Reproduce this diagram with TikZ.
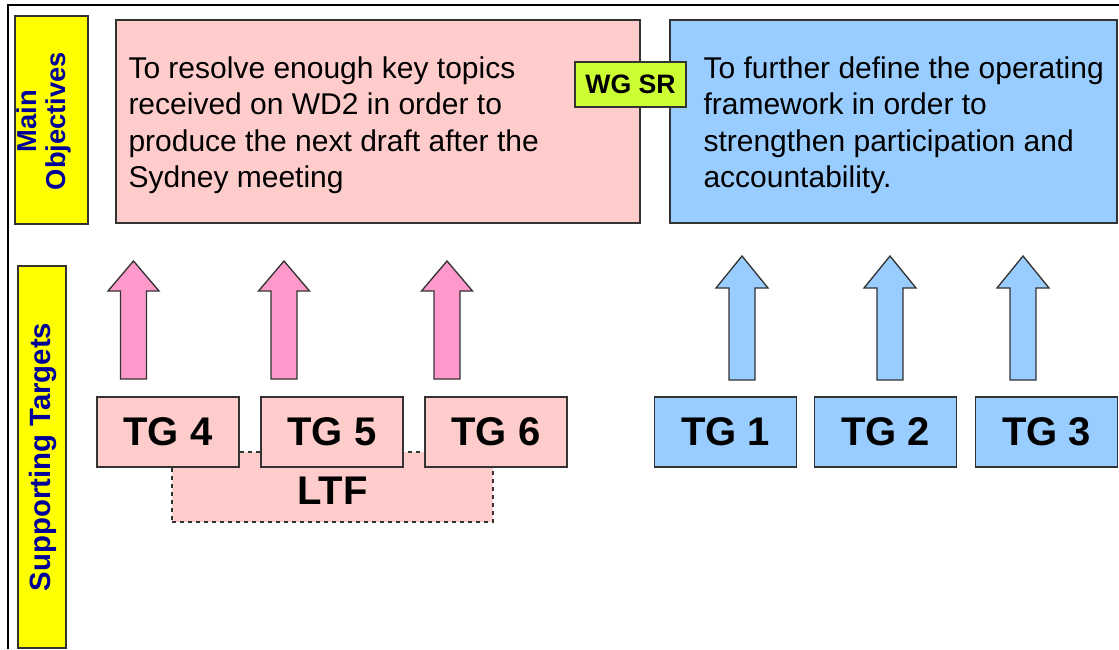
\documentclass[tikz,border=0pt]{standalone}
\usepackage{fontspec}
\setmainfont{Liberation Sans}

\definecolor{pinkfill}{HTML}{FFCCCC}
\definecolor{bluefill}{HTML}{99CCFF}
\definecolor{arrowpink}{HTML}{FF99CC}
\definecolor{yellowbar}{HTML}{FFFF00}
\definecolor{wgfill}{HTML}{CCFF33}
\definecolor{navytext}{HTML}{000099}
\definecolor{edgegray}{HTML}{333333}

\tikzset{every picture/.style={line width=0.75pt}}
\tikzset{
  box/.style={draw=edgegray, line width=1.1pt, rectangle, inner sep=0pt},
  sidebar/.style={box, fill=yellowbar, minimum width=#1},
  goalbox/.style={box, minimum height=152.25pt},
  tgbox/.style={box, minimum width=106.5pt, minimum height=52.5pt, font=\fontsize{30pt}{36pt}\selectfont\bfseries},
  sidelabel/.style={inner sep=0pt, align=center, text=navytext, font=\fontsize{20.5pt}{22pt}\selectfont\bfseries},
  maintext/.style={inner sep=0pt, align=left, font=\fontsize{22.5pt}{27.4pt}\selectfont},
  pinkarrow/.style={draw=edgegray, line width=1pt, fill=arrowpink, line join=miter},
  bluearrow/.style={draw=edgegray, line width=1pt, fill=bluefill, line join=miter}
}

\begin{document}
\begin{tikzpicture}[x=0.75pt,y=0.75pt,yscale=-1,xscale=1]
\useasboundingbox (0,0) rectangle (1119,649);
\fill[white] (0,0) rectangle (1119,649);

%Frame
\draw[line width=1.5pt] (7.5,649) -- (7.5,5.5) -- (1119,5.5);

%Shape: side bars
\node[sidebar=54.75pt, minimum height=156pt] (mainobj) at (51.5,120) {};
\node[sidebar=36pt, minimum height=286.5pt] (supptgt) at (42,457) {};
% Text Node
\node[sidelabel, rotate=90] (mainobjtext) at (44,121) {Main\\Objectives};
% Text Node
\node[sidelabel, rotate=90, font=\fontsize{22pt}{24pt}\selectfont\bfseries] (supptgttext) at (43,457) {Supporting Targets};

%Shape: objective boxes
\node[goalbox, fill=pinkfill, minimum width=393pt] (goalone) at (378,121.5) {};
\node[goalbox, fill=bluefill, minimum width=335.25pt] (goaltwo) at (893.5,121.5) {};
% Text Node
\node[maintext, anchor=north west] (goalonetext) at (128,56) {To resolve enough key topics\\received on WD2 in order to\\produce the next draft after the\\Sydney meeting};
% Text Node
\node[maintext, anchor=north west] (goaltwotext) at (703,56) {To further define the operating\\framework in order to\\strengthen participation and\\accountability.};
% WG SR tag
\node[box, fill=wgfill, minimum width=83.25pt, minimum height=33.75pt, font=\fontsize{20pt}{24pt}\selectfont\bfseries] (wgsr) at (630.5,84.5) {WG SR};

%Shape: block arrows
\draw[pinkarrow] (120.5,379) -- (120.5,291) -- (108,291) -- (133.5,261) -- (159,291) -- (146.5,291) -- (146.5,379) -- cycle;
\draw[pinkarrow] (271,379) -- (271,291) -- (258.5,291) -- (284,261) -- (309.5,291) -- (297,291) -- (297,379) -- cycle;
\draw[pinkarrow] (434,379) -- (434,291) -- (421.5,291) -- (447,261) -- (472.5,291) -- (460,291) -- (460,379) -- cycle;
\draw[bluearrow] (729,380) -- (729,288) -- (716,288) -- (742,256) -- (768,288) -- (755,288) -- (755,380) -- cycle;
\draw[bluearrow] (877,380) -- (877,288) -- (864,288) -- (890,256) -- (916,288) -- (903,288) -- (903,380) -- cycle;
\draw[bluearrow] (1010,380) -- (1010,288) -- (997,288) -- (1023,256) -- (1049,288) -- (1036,288) -- (1036,380) -- cycle;

%Shape: LTF
\node[box, dashed, fill=pinkfill, minimum width=240.75pt, minimum height=52.5pt] (ltf) at (332.5,487) {};
% Text Node
\node[inner sep=0pt, font=\fontsize{30pt}{36pt}\selectfont\bfseries] (ltftext) at (332.5,491) {LTF};

%Shape: target groups
\node[tgbox, fill=pinkfill] (tgfour) at (168,432) {TG 4};
\node[tgbox, fill=pinkfill] (tgfive) at (332,432) {TG 5};
\node[tgbox, fill=pinkfill] (tgsix) at (496,432) {TG 6};
\node[tgbox, fill=bluefill] (tgone) at (725.5,432) {TG 1};
\node[tgbox, fill=bluefill] (tgtwo) at (885.5,432) {TG 2};
\node[tgbox, fill=bluefill] (tgthree) at (1046.5,432) {TG 3};

\end{tikzpicture}
\end{document}
